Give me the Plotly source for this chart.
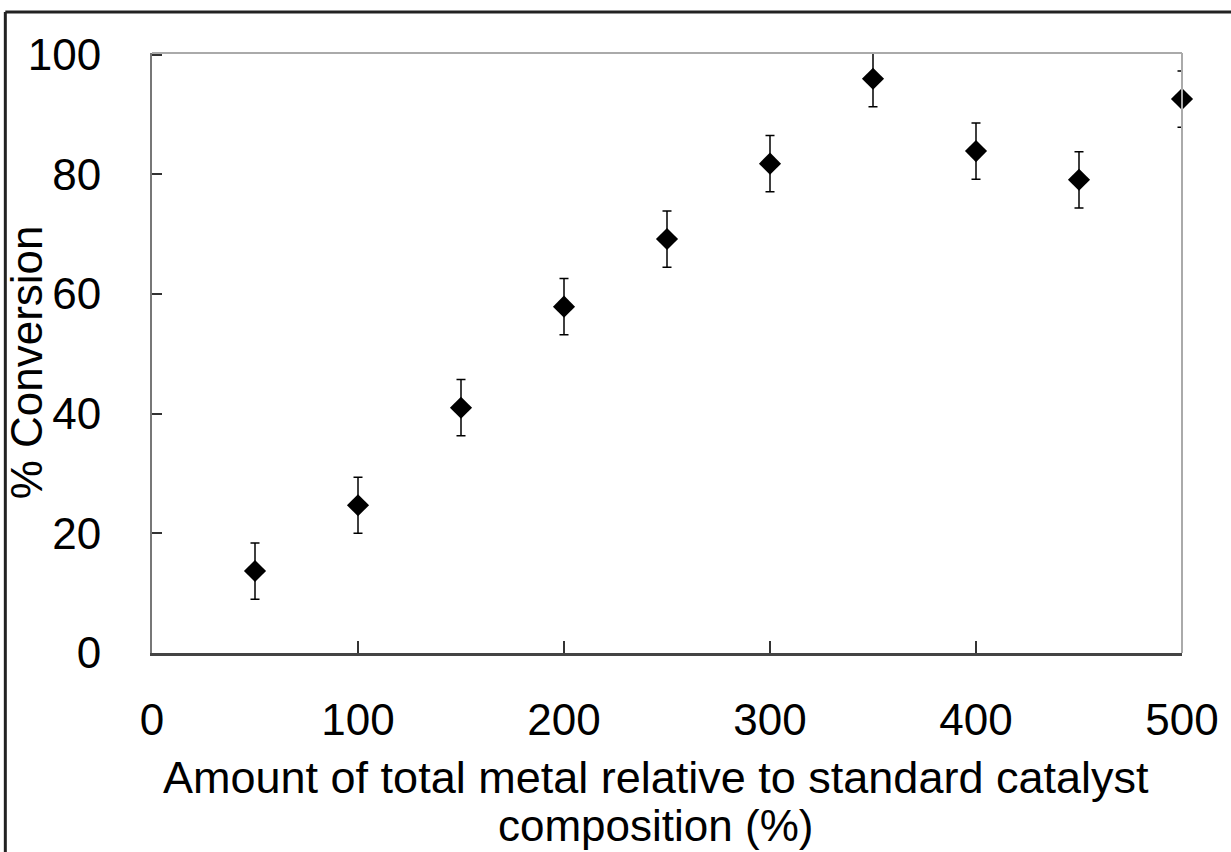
import plotly.graph_objects as go

amount = [50, 100, 150, 200, 250, 300, 350, 400, 450, 500]
conversion = [13.7, 24.7, 41.0, 57.9, 69.2, 81.8, 96.0, 83.9, 79.1, 92.6]
error = [4.7, 4.7, 4.7, 4.7, 4.7, 4.7, 4.7, 4.7, 4.7, 4.7]
x_ticks = [0, 100, 200, 300, 400, 500]
y_ticks = [0, 20, 40, 60, 80, 100]

FONT = "Liberation Sans, Arial, sans-serif"

fig = go.Figure()
fig.add_trace(go.Scatter(
    x=amount, y=conversion, mode="markers",
    marker=dict(symbol="diamond", size=17, color="black"),
    error_y=dict(type="data", array=error, visible=True, color="black", thickness=1.5, width=4.5),
    cliponaxis=False, showlegend=False,
))

fig.update_layout(
    width=1231, height=852,
    margin=dict(l=152, r=47, t=53, b=199),
    paper_bgcolor="white", plot_bgcolor="white",
    font=dict(family=FONT, size=44, color="black"),
    xaxis=dict(range=[0, 500], tickvals=x_ticks, showgrid=False, zeroline=False,
               showline=True, linecolor="#444", linewidth=3,
               ticks="inside", ticklen=12, tickwidth=2, tickcolor="#333",
               ticklabelstandoff=26, tickfont=dict(size=44)),
    yaxis=dict(range=[0, 100.3], tickvals=y_ticks, showgrid=False, zeroline=False,
               showline=True, linecolor="#777", linewidth=2,
               ticks="inside", ticklen=10, tickwidth=2, tickcolor="#333",
               ticklabelstandoff=40, tickfont=dict(size=44)),
    shapes=[
        dict(type="line", xref="paper", yref="paper", x0=0, x1=1, y0=1, y1=1,
             line=dict(color="#aaa", width=2)),
        dict(type="line", xref="paper", yref="paper", x0=1, x1=1, y0=0, y1=1,
             line=dict(color="#aaa", width=2)),
        dict(type="line", xref="paper", yref="paper", x0=-0.1424, x1=1.05, y0=1.0683, y1=1.0683,
             line=dict(color="#222", width=3)),
        dict(type="line", xref="paper", yref="paper", x0=-0.1424, x1=-0.1424, y0=-0.34, y1=1.0683,
             line=dict(color="#222", width=3)),
    ],
    annotations=[
        dict(text="Amount of total metal relative to standard catalyst",
             xref="paper", yref="paper", x=0.489, y=-0.2083, xanchor="center", yanchor="middle",
             showarrow=False, font=dict(size=45, family=FONT)),
        dict(text="composition (%)",
             xref="paper", yref="paper", x=0.489, y=-0.3300, xanchor="center", yanchor="bottom",
             showarrow=False, borderpad=0, font=dict(size=44, family=FONT)),
        dict(text="% Conversion", xref="paper", yref="paper", x=-0.122, y=0.485,
             xanchor="center", yanchor="middle", textangle=-90,
             showarrow=False, font=dict(size=44, family=FONT)),
    ],
)

fig.write_html("out.html")
